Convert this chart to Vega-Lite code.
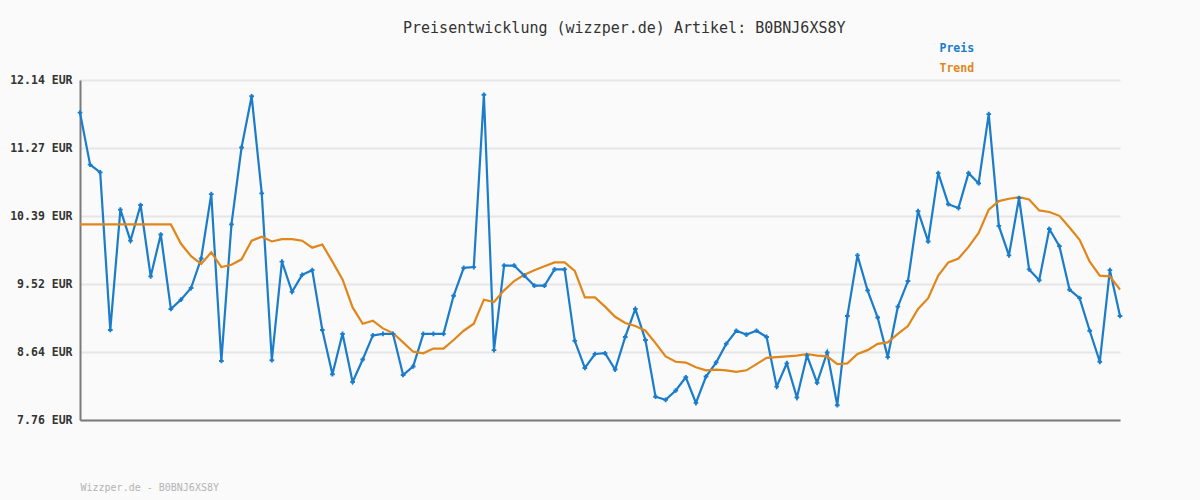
{
  "$schema": "https://vega.github.io/schema/vega-lite/v6.json",
  "width": 1040,
  "height": 340,
  "autosize": "none",
  "padding": {"left": 80, "top": 80, "right": 80, "bottom": 80},
  "background": "#fafafa",
  "title": {
    "text": "Preisentwicklung (wizzper.de) Artikel: B0BNJ6XS8Y",
    "font": "DejaVu Sans Mono",
    "fontSize": 15,
    "fontWeight": "normal",
    "color": "#333333",
    "anchor": "start",
    "frame": "group",
    "dx": 323,
    "dy": -7,
    "offset": 0
  },
  "config": {"view": {"stroke": null}},
  "data": {"values": [
    {"i":0,"Preis":11.72,"Trend":10.28},{"i":1,"Preis":11.05,"Trend":10.28},{"i":2,"Preis":10.95,"Trend":10.28},{"i":3,"Preis":8.92,"Trend":10.28},
    {"i":4,"Preis":10.47,"Trend":10.28},{"i":5,"Preis":10.07,"Trend":10.28},{"i":6,"Preis":10.53,"Trend":10.28},{"i":7,"Preis":9.61,"Trend":10.28},
    {"i":8,"Preis":10.15,"Trend":10.28},{"i":9,"Preis":9.19,"Trend":10.28},{"i":10,"Preis":9.31,"Trend":10.03},{"i":11,"Preis":9.46,"Trend":9.87},
    {"i":12,"Preis":9.84,"Trend":9.77},{"i":13,"Preis":10.67,"Trend":9.92},{"i":14,"Preis":8.52,"Trend":9.73},{"i":15,"Preis":10.28,"Trend":9.76},
    {"i":16,"Preis":11.27,"Trend":9.83},{"i":17,"Preis":11.93,"Trend":10.07},{"i":18,"Preis":10.68,"Trend":10.12},{"i":19,"Preis":8.53,"Trend":10.06},
    {"i":20,"Preis":9.80,"Trend":10.09},{"i":21,"Preis":9.41,"Trend":10.09},{"i":22,"Preis":9.63,"Trend":10.07},{"i":23,"Preis":9.69,"Trend":9.98},
    {"i":24,"Preis":8.92,"Trend":10.02},{"i":25,"Preis":8.35,"Trend":9.80},{"i":26,"Preis":8.87,"Trend":9.57},{"i":27,"Preis":8.25,"Trend":9.21},
    {"i":28,"Preis":8.54,"Trend":9.00},{"i":29,"Preis":8.85,"Trend":9.04},{"i":30,"Preis":8.87,"Trend":8.94},{"i":31,"Preis":8.87,"Trend":8.88},
    {"i":32,"Preis":8.34,"Trend":8.76},{"i":33,"Preis":8.45,"Trend":8.64},{"i":34,"Preis":8.87,"Trend":8.62},{"i":35,"Preis":8.87,"Trend":8.68},
    {"i":36,"Preis":8.87,"Trend":8.68},{"i":37,"Preis":9.36,"Trend":8.79},{"i":38,"Preis":9.72,"Trend":8.91},{"i":39,"Preis":9.73,"Trend":9.00},
    {"i":40,"Preis":11.95,"Trend":9.31},{"i":41,"Preis":8.66,"Trend":9.28},{"i":42,"Preis":9.75,"Trend":9.43},{"i":43,"Preis":9.75,"Trend":9.55},
    {"i":44,"Preis":9.62,"Trend":9.63},{"i":45,"Preis":9.49,"Trend":9.69},{"i":46,"Preis":9.49,"Trend":9.74},{"i":47,"Preis":9.70,"Trend":9.79},
    {"i":48,"Preis":9.70,"Trend":9.79},{"i":49,"Preis":8.78,"Trend":9.68},{"i":50,"Preis":8.43,"Trend":9.34},{"i":51,"Preis":8.61,"Trend":9.34},
    {"i":52,"Preis":8.62,"Trend":9.22},{"i":53,"Preis":8.41,"Trend":9.09},{"i":54,"Preis":8.83,"Trend":9.01},{"i":55,"Preis":9.19,"Trend":8.97},
    {"i":56,"Preis":8.79,"Trend":8.91},{"i":57,"Preis":8.06,"Trend":8.75},{"i":58,"Preis":8.02,"Trend":8.58},{"i":59,"Preis":8.14,"Trend":8.51},
    {"i":60,"Preis":8.31,"Trend":8.50},{"i":61,"Preis":7.98,"Trend":8.44},{"i":62,"Preis":8.32,"Trend":8.40},{"i":63,"Preis":8.50,"Trend":8.41},
    {"i":64,"Preis":8.74,"Trend":8.40},{"i":65,"Preis":8.91,"Trend":8.38},{"i":66,"Preis":8.86,"Trend":8.40},{"i":67,"Preis":8.91,"Trend":8.48},
    {"i":68,"Preis":8.83,"Trend":8.56},{"i":69,"Preis":8.19,"Trend":8.57},{"i":70,"Preis":8.49,"Trend":8.58},{"i":71,"Preis":8.05,"Trend":8.59},
    {"i":72,"Preis":8.59,"Trend":8.61},{"i":73,"Preis":8.24,"Trend":8.59},{"i":74,"Preis":8.63,"Trend":8.58},{"i":75,"Preis":7.95,"Trend":8.48},
    {"i":76,"Preis":9.10,"Trend":8.49},{"i":77,"Preis":9.88,"Trend":8.61},{"i":78,"Preis":9.43,"Trend":8.66},{"i":79,"Preis":9.08,"Trend":8.74},
    {"i":80,"Preis":8.57,"Trend":8.76},{"i":81,"Preis":9.22,"Trend":8.87},{"i":82,"Preis":9.55,"Trend":8.97},{"i":83,"Preis":10.45,"Trend":9.19},
    {"i":84,"Preis":10.06,"Trend":9.33},{"i":85,"Preis":10.94,"Trend":9.62},{"i":86,"Preis":10.54,"Trend":9.79},{"i":87,"Preis":10.49,"Trend":9.84},
    {"i":88,"Preis":10.94,"Trend":9.99},{"i":89,"Preis":10.81,"Trend":10.17},{"i":90,"Preis":11.70,"Trend":10.47},{"i":91,"Preis":10.26,"Trend":10.58},
    {"i":92,"Preis":9.88,"Trend":10.61},{"i":93,"Preis":10.62,"Trend":10.63},{"i":94,"Preis":9.70,"Trend":10.60},{"i":95,"Preis":9.56,"Trend":10.46},
    {"i":96,"Preis":10.22,"Trend":10.44},{"i":97,"Preis":10.00,"Trend":10.39},{"i":98,"Preis":9.44,"Trend":10.24},{"i":99,"Preis":9.33,"Trend":10.08},
    {"i":100,"Preis":8.91,"Trend":9.80},{"i":101,"Preis":8.51,"Trend":9.62},{"i":102,"Preis":9.69,"Trend":9.61},{"i":103,"Preis":9.10,"Trend":9.44}
  ]},
  "transform": [{"fold": ["Preis", "Trend"], "as": ["serie", "wert"]}],
  "encoding": {
    "x": {
      "field": "i", "type": "quantitative",
      "scale": {"domain": [0, 103], "nice": false, "zero": false},
      "axis": {
        "labels": false, "ticks": false, "grid": false,
        "domainColor": "#7a7a7a", "domainWidth": 2,
        "title": "Wizzper.de - B0BNJ6XS8Y",
        "titleFont": "DejaVu Sans Mono", "titleFontSize": 10, "titleFontWeight": "normal",
        "titleColor": "#b4b4b4", "titleAnchor": "start", "titleAlign": "left",
        "titleX": 0, "titleY": 70, "titleBaseline": "alphabetic"
      }
    },
    "y": {
      "field": "wert", "type": "quantitative",
      "scale": {"domain": [7.76, 12.14], "nice": false, "zero": false},
      "axis": {
        "values": [7.76, 8.636, 9.512, 10.388, 11.264, 12.14],
        "labelExpr": "format(datum.value + 0.004, '.2f') + ' EUR'",
        "title": null, "ticks": false, "labelPadding": 8,
        "labelFont": "DejaVu Sans Mono", "labelFontSize": 11.5, "labelFontWeight": "bold",
        "labelColor": "#333333",
        "domainColor": "#7a7a7a", "domainWidth": 2,
        "gridColor": "#e6e6e6", "gridWidth": 2
      }
    },
    "color": {
      "field": "serie", "type": "nominal",
      "scale": {"domain": ["Preis", "Trend"], "range": ["#1a7cca", "#e0861a"]},
      "legend": {
        "title": null, "orient": "none", "legendX": 848, "legendY": -37,
        "symbolSize": 0, "symbolOpacity": 0, "symbolStrokeWidth": 0, "labelOffset": 0,
        "labelFont": "DejaVu Sans Mono", "labelFontSize": 11.5, "labelFontWeight": "bold",
        "rowPadding": 7,
        "encode": {"labels": {"update": {"fill": {"scale": "color", "field": "value"}}}}
      }
    }
  },
  "layer": [
    {"mark": {"type": "line", "strokeWidth": 2.2, "interpolate": "linear"}},
    {
      "transform": [{"filter": "datum.serie === 'Preis'"}],
      "mark": {"type": "point", "shape": "cross", "size": 22, "filled": true, "opacity": 1}
    }
  ]
}
